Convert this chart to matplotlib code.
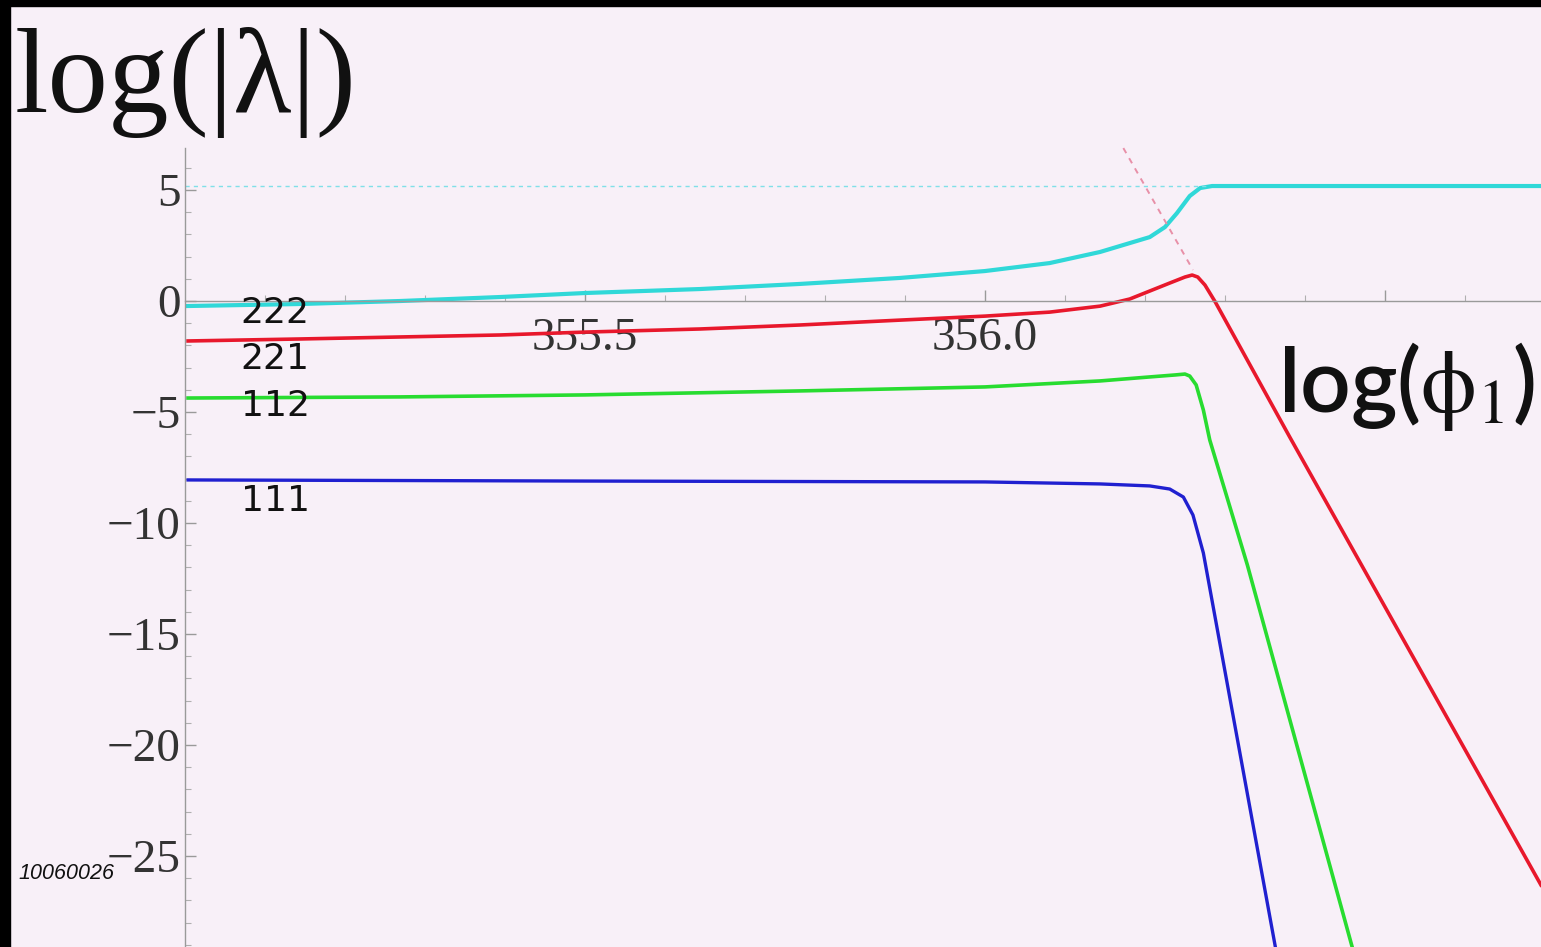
import matplotlib
matplotlib.use("Agg")
import matplotlib.pyplot as plt
import numpy as np
from matplotlib.patches import Rectangle
from matplotlib.ticker import FixedLocator

# ---------------- data ----------------
x_222 = [355.004, 355.144, 355.269, 355.394, 355.500, 355.644, 355.769, 355.894, 356.000,
         356.081, 356.144, 356.206, 356.225, 356.240, 356.256, 356.269, 356.284, 356.695]
y_222 = [-0.225, -0.135, 0.0, 0.18, 0.36, 0.54, 0.77, 1.04, 1.35,
         1.71, 2.21, 2.88, 3.33, 3.96, 4.73, 5.09, 5.18, 5.18]

x_221 = [355.004, 355.144, 355.269, 355.394, 355.500, 355.644, 355.769, 355.894, 356.000,
         356.081, 356.144, 356.181, 356.206, 356.231, 356.250, 356.259, 356.266, 356.275,
         356.288, 356.381, 356.695]
y_221 = [-1.80, -1.71, -1.62, -1.53, -1.40, -1.26, -1.08, -0.86, -0.68,
         -0.50, -0.23, 0.09, 0.45, 0.81, 1.08, 1.17, 1.08, 0.72,
         -0.05, -6.13, -26.31]

x_112 = [355.004, 355.269, 355.500, 355.769, 356.000, 356.144, 356.206, 356.238, 356.250,
         356.256, 356.264, 356.273, 356.281, 356.328, 356.459]
y_112 = [-4.37, -4.32, -4.23, -4.05, -3.87, -3.60, -3.42, -3.33, -3.29,
         -3.38, -3.78, -4.91, -6.26, -11.89, -29.10]

x_111 = [355.004, 355.500, 356.000, 356.144, 356.206, 356.231, 356.248, 356.260, 356.273, 356.363]
y_111 = [-8.06, -8.11, -8.15, -8.24, -8.33, -8.47, -8.83, -9.64, -11.35, -29.10]

x_ref_v = [356.173, 356.260]
y_ref_v = [6.89, 1.40]
y_ref_h = 5.18

curve_labels = ["222", "221", "112", "111"]
label_y = [-0.55, -2.6, -4.75, -9.0]
label_x = 355.07

xticks_major = [355.5, 356.0, 356.5]
xtick_labels = ["355.5", "356.0", ""]
xticks_minor = [355.1, 355.2, 355.3, 355.4, 355.6, 355.7, 355.8, 355.9,
                356.1, 356.2, 356.3, 356.4, 356.6]
yticks_major = [5, 0, -5, -10, -15, -20, -25]
ytick_labels = ["5", "0", "\u22125", "\u221210", "\u221215", "\u221220", "\u221225"]
yticks_minor = [6, 4, 3, 2, 1, -1, -2, -3, -4, -6, -7, -8, -9, -11, -12, -13, -14,
                -16, -17, -18, -19, -21, -22, -23, -24, -26, -27, -28, -29]

# ---------------- figure ----------------
bg = "#f8f0f8"
plt.rcParams["mathtext.fontset"] = "stix"
fig = plt.figure(figsize=(15.41, 9.47), dpi=100, facecolor=bg)
ax = fig.add_axes([0, 0, 1, 1], facecolor=bg)
ax.set_xlim(354.769, 356.695)
ax.set_ylim(-29.1, 13.56)

ax.plot(x_222, y_222, color="#30d8d8", lw=3.0, solid_joinstyle="round")
ax.plot(x_221, y_221, color="#e8182c", lw=2.6, solid_joinstyle="round")
ax.plot(x_112, y_112, color="#28dc30", lw=2.6, solid_joinstyle="round")
ax.plot(x_111, y_111, color="#2020d0", lw=2.4, solid_joinstyle="round")

ax.plot([355.0, 356.28], [y_ref_h, y_ref_h], color="#80e0e8", lw=1.0, ls=(0, (3, 3)))
ax.plot(x_ref_v, y_ref_v, color="#e890a8", lw=1.4, ls=(0, (3, 3)))

for t, yy in zip(curve_labels, label_y):
    ax.text(label_x, yy, t, fontsize=26, family="DejaVu Sans", color="#111111",
            ha="left", va="center")

# axes through origin (Mathematica style)
for s in ("top", "right"):
    ax.spines[s].set_visible(False)
ax.spines["left"].set_position(("data", 355.0))
ax.spines["bottom"].set_position(("data", 0))
ax.spines["left"].set_bounds(-29.1, 6.89)
ax.spines["bottom"].set_bounds(355.0, 356.695)
for s in ("left", "bottom"):
    ax.spines[s].set_color("#9a9a9a")
    ax.spines[s].set_linewidth(1.0)

ax.xaxis.set_major_locator(FixedLocator(xticks_major))
ax.set_xticklabels(xtick_labels)
ax.xaxis.set_minor_locator(FixedLocator(xticks_minor))
ax.yaxis.set_major_locator(FixedLocator(yticks_major))
ax.set_yticklabels(ytick_labels)
ax.yaxis.set_minor_locator(FixedLocator(yticks_minor))
ax.tick_params(which="major", direction="in", length=8, width=1, color="#9a9a9a",
               labelsize=34, labelcolor="#333333")
ax.tick_params(which="minor", direction="in", length=4, width=0.8, color="#b0b0b0")
ax.tick_params(axis="x", which="major", pad=12)
ax.tick_params(axis="y", which="major", pad=3)
for lab in ax.get_xticklabels() + ax.get_yticklabels():
    lab.set_family("Liberation Serif")

# axis titles
fig.text(15 / 1541, 1 - 112 / 947, "log(|\u03bb|)", fontsize=87, family="Liberation Serif",
         color="#111111", ha="left", va="baseline")
fig.text(1535 / 1541, 1 - 412 / 947, r"log($\mathrm{\phi}_1$)", fontsize=64, family="Lato",
         weight="semibold", color="#111111", ha="right", va="baseline")
fig.text(18 / 1541, 1 - 879 / 947, "10060026", fontsize=15.5, family="Liberation Sans",
         style="italic", color="#111111", ha="left", va="baseline")

# black frame edges of the screenshot
fig.patches.append(Rectangle((0, 1 - 6 / 947), 1, 6 / 947, transform=fig.transFigure,
                             color="black", zorder=10))
fig.patches.append(Rectangle((0, 0), 10 / 1541, 1, transform=fig.transFigure,
                             color="black", zorder=10))

fig.savefig("out.png", dpi=100, facecolor=bg)
